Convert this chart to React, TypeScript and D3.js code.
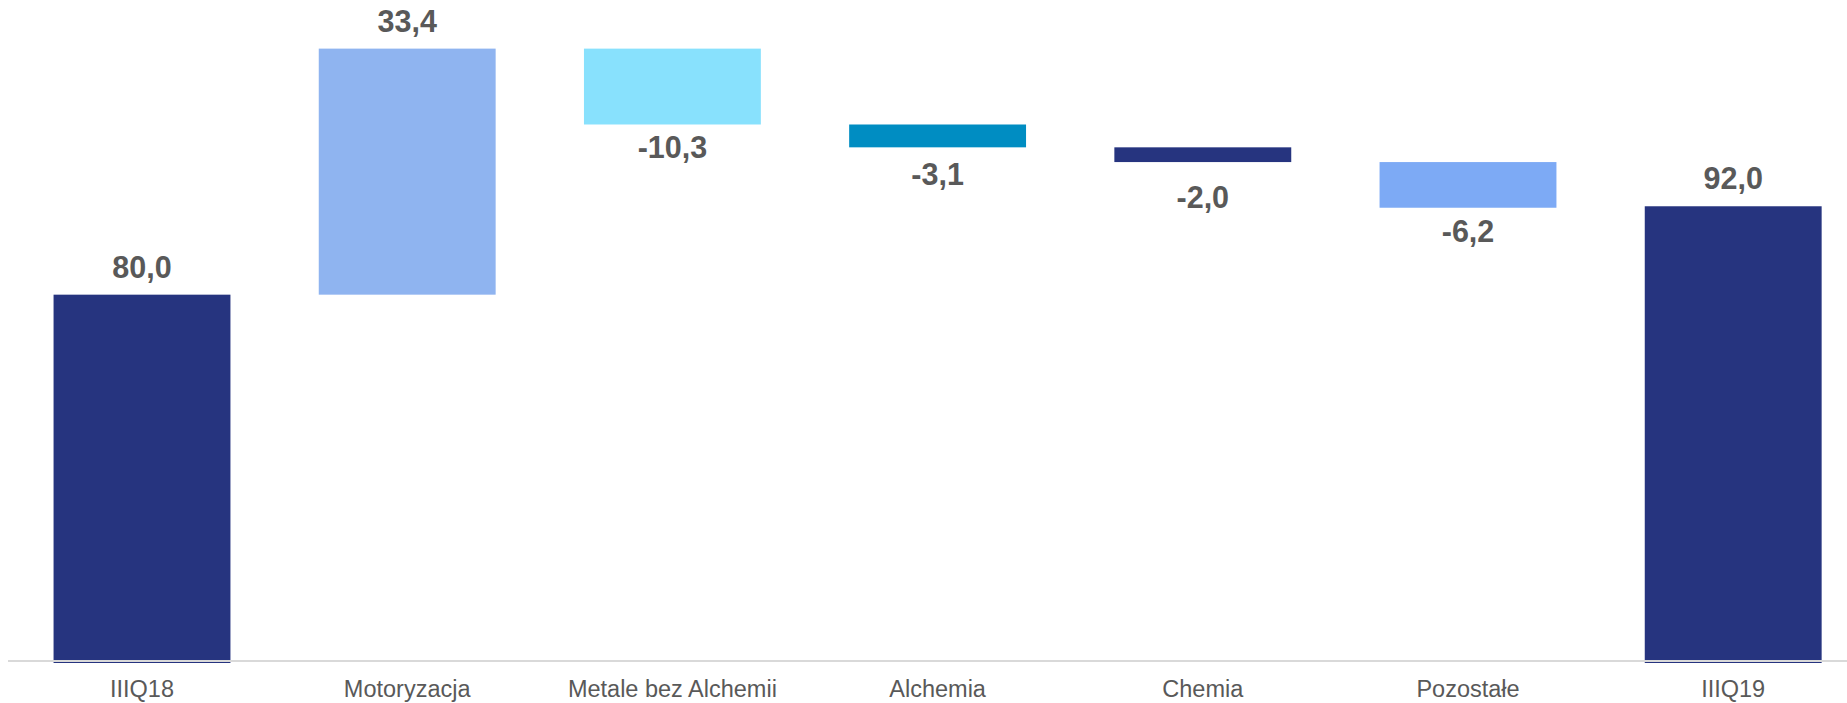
import React from "react";
import * as d3 from "d3";

const categories = ["IIIQ18", "Motoryzacja", "Metale bez Alchemii", "Alchemia", "Chemia", "Pozostałe", "IIIQ19"];
const values = [80.0, 33.4, -10.3, -3.1, -2.0, -6.2, 92.0];
const isTotal = [true, false, false, false, false, false, true];
const barColors = ["#26347F", "#8FB4F0", "#88E1FD", "#008DC2", "#26347F", "#7DAAF5", "#26347F"];
const yDomain = [30, 120];

const W = 1847;
const H = 703;

function fmt(v: number) {
  return v.toFixed(1).replace(".", ",");
}

export default function App() {
  const x = d3
    .scaleBand<string>()
    .domain(categories)
    .range([9.4, 1865.8])
    .paddingInner(0.333)
    .paddingOuter(0.1665);
  const y = d3.scaleLinear().domain(yDomain).range([663, 0]);

  let running = 0;
  const bars = categories.map((c, i) => {
    let lo: number, hi: number;
    if (isTotal[i]) {
      lo = yDomain[0];
      hi = values[i];
      running = values[i];
    } else {
      const start = running;
      const end = running + values[i];
      lo = Math.min(start, end);
      hi = Math.max(start, end);
      running = end;
    }
    return { c, i, lo, hi, v: values[i] };
  });

  return (
    <svg
      width={W}
      height={H}
      style={{ position: "absolute", left: 0, top: 0, background: "#fff" }}
      fontFamily="'Liberation Sans', Arial, sans-serif"
    >
      {bars.map((b) => {
        const x0 = x(b.c)!;
        const bw = x.bandwidth();
        const yt = y(b.hi);
        const yb = y(b.lo);
        const cx = x0 + bw / 2;
        const labelY = b.v >= 0 ? yt - 17 : Math.max(yb + 34, yt + 61);
        return (
          <g key={b.c}>
            <rect x={x0} y={yt} width={bw} height={yb - yt} fill={barColors[b.i]} />
            <text
              x={cx}
              y={labelY}
              textAnchor="middle"
              fontSize={30.5}
              fontWeight="bold"
              fill="#595959"
            >
              {fmt(b.v)}
            </text>
            <text x={cx} y={697} textAnchor="middle" fontSize={23.5} fill="#595959">
              {b.c}
            </text>
          </g>
        );
      })}
      <line x1={8} x2={W} y1={661} y2={661} stroke="#D9D9D9" strokeWidth={2} />
    </svg>
  );
}
